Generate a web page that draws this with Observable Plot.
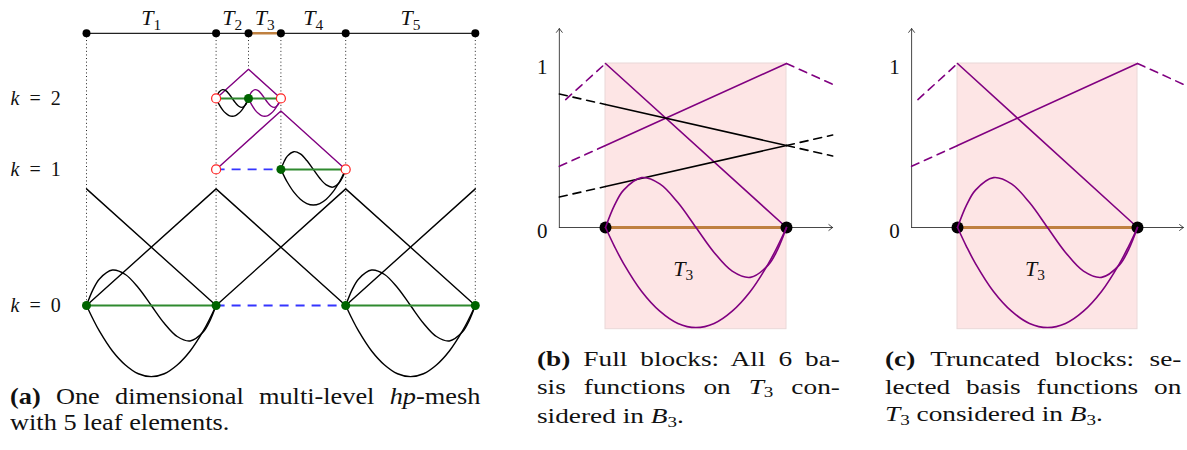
<!DOCTYPE html>
<html><head><meta charset="utf-8">
<script src="https://cdn.jsdelivr.net/npm/d3@7"></script>
<script src="https://cdn.jsdelivr.net/npm/@observablehq/plot@0.6"></script>
<style>
html,body{margin:0;padding:0;background:#fff;}
body{width:1187px;height:450px;position:relative;overflow:hidden;color:#111;font-family:'Liberation Serif',serif;}
.panel{position:absolute;top:0;}
.cap{position:absolute;font-family:'Liberation Serif',serif;color:#111;}
.cap .ln{transform-origin:0 0;white-space:normal;}
.cap .j{text-align:justify;text-align-last:justify;}
.sub{font-size:0.7em;position:relative;top:0.25em;}
</style></head>
<body>
<div id="pa" class="panel" style="left:0px"></div>
<div id="pb" class="panel" style="left:520px"></div>
<div id="pc" class="panel" style="left:860px"></div>
<div class="cap" style="left:10px;top:384px;font-size:22.5px;line-height:26px">
  <div class="ln j" style="width:402px;transform:scaleX(1.17)"><b>(a)</b> One dimensional multi-level <i>hp</i>-mesh</div>
  <div class="ln" style="width:402px;transform:scaleX(1.17)">with 5 leaf elements.</div>
</div>
<div class="cap" style="left:537px;top:346px;font-size:21px;line-height:27.5px">
  <div class="ln j" style="width:233px;transform:scaleX(1.3)"><b>(b)</b> Full blocks: All 6 ba-</div>
  <div class="ln j" style="width:233px;transform:scaleX(1.3)">sis functions on <i>T</i><span class="sub">3</span> con-</div>
  <div class="ln" style="width:233px;transform:scaleX(1.3)">sidered in <i>B</i><span class="sub">3</span>.</div>
</div>
<div class="cap" style="left:885px;top:346px;font-size:21px;line-height:27.5px">
  <div class="ln j" style="width:228px;transform:scaleX(1.3)"><b>(c)</b> Truncated blocks: se-</div>
  <div class="ln j" style="width:228px;transform:scaleX(1.3)">lected basis functions on</div>
  <div class="ln" style="width:228px;transform:scaleX(1.3)"><i>T</i><span class="sub">3</span> considered in <i>B</i><span class="sub">3</span>.</div>
</div>
<script>
// ---------------- data: panel (a) ----------------
const nodeX = [0, 4, 5, 6, 8, 12];
const leafLabels = ["T_1", "T_2", "T_3", "T_4", "T_5"];
const levelLabels = ["k = 0", "k = 1", "k = 2"];
const levelElements = [ // [level, x0, x1, active]
  [0, 0, 4, true], [0, 4, 8, false], [0, 8, 12, true],
  [1, 4, 6, false], [1, 6, 8, true],
  [2, 4, 5, true], [2, 5, 6, true]];
const levelNodes = [ // [level, x, hanging]
  [0, 0, false], [0, 4, false], [0, 8, false], [0, 12, false],
  [1, 4, true], [1, 6, false], [1, 8, true],
  [2, 4, true], [2, 5, false], [2, 6, true]];
const hatFunctions = [ // [level, left, peak, right, colour]
  [0, null, 0, 4, "black"], [0, 0, 4, 8, "black"], [0, 4, 8, 12, "black"], [0, 8, 12, null, "black"],
  [1, 4, 6, 8, "purple"], [2, 4, 5, 6, "purple"]];
const bubbleFunctions = [ // [level, x0, x1, colour]
  [0, 0, 4, "black"], [0, 8, 12, "black"], [1, 6, 8, "black"], [2, 4, 5, "black"], [2, 5, 6, "purple"]];
const guideLines = [ // [x, level where the dotted guide stops, stops at hat peak]
  [0, 0, false], [4, 0, false], [5, 2, true], [6, 1, false], [8, 0, false], [12, 0, false]];
// reference shapes on a unit element (hat peak = 1)
const bubbleT = [0, 0.05, 0.1, 0.2, 0.3, 0.4, 0.5, 0.6, 0.7, 0.8, 0.9, 0.95, 1];
const quadBubble = [0, -0.116, -0.22, -0.39, -0.51, -0.585, -0.61, -0.585, -0.51, -0.39, -0.22, -0.116, 0];
const cubicBubble = [0, 0.136, 0.228, 0.304, 0.266, 0.152, 0, -0.152, -0.266, -0.304, -0.228, -0.136, 0];

// ---------------- data: panels (b), (c) on T3 ----------------
const t3Colour = ["purple", "purple", "black", "black"];
const t3InTruncated = [true, true, false, false];
const t3Solid = [[[0, 1], [1, 0]], [[0, 0.5], [1, 1]], [[0, 0.75], [1, 0.5]], [[0, 0.25], [1, 0.5]]];
const t3Dashed = [
  [[[-0.22, 0.78], [0, 1]]],
  [[[-0.255, 0.373], [0, 0.5]], [[1, 1], [1.255, 0.873]]],
  [[[-0.255, 0.814], [0, 0.75]], [[1, 0.5], [1.255, 0.436]]],
  [[[-0.255, 0.186], [0, 0.25]], [[1, 0.5], [1.255, 0.564]]]];
const t3Element = [0, 1];
const tickValues = [0, 1];

// ---------------- layout ----------------
const FONT = "'Liberation Serif', serif";
const HAT = 0.9;               // drawn hat height per unit element width
const levelBase = [0, 4.2, 6.39];
const topLine = 8.4;
const PXA = 32.4;
const GREEN_LINE = "#2f8a2f", GREEN_DOT = "#006400", BLUE = "#3535ff", RED = "#ff2020", BROWN = "#bf8040";

function mathify(svg) {
  svg.querySelectorAll("text").forEach(el => {
    el.setAttribute("font-family", "Liberation Serif");
    const s = el.textContent;
    const m = s.match(/^([A-Za-z])(?:_(\w))?(.*)$/);
    if (!m) return;
    el.textContent = "";
    const ns = "http://www.w3.org/2000/svg";
    const a = document.createElementNS(ns, "tspan");
    a.setAttribute("font-style", "italic"); a.textContent = m[1]; el.appendChild(a);
    if (m[2]) {
      const b = document.createElementNS(ns, "tspan");
      b.setAttribute("font-size", "0.7em"); b.setAttribute("dy", "0.3em"); b.textContent = m[2]; el.appendChild(b);
    }
    if (m[3]) {
      const c = document.createElementNS(ns, "tspan");
      c.textContent = m[3].replace(/ /g, "\u2002"); el.appendChild(c);
    }
  });
}

// ---- panel (a) rows ----
const hatRows = [];
hatFunctions.forEach(([k, l, p, r, c], i) => {
  const b = levelBase[k];
  const h = l !== null ? p - l : r - p;
  if (l !== null) hatRows.push({id: i, x: l, y: b, c});
  hatRows.push({id: i, x: p, y: b + HAT * h, c});
  if (r !== null) hatRows.push({id: i, x: r, y: b, c});
});
const bubbleRows = [];
bubbleFunctions.forEach(([k, x0, x1, c], i) => {
  const h = x1 - x0, b = levelBase[k];
  [quadBubble, cubicBubble].forEach((shape, j) => {
    bubbleT.forEach((t, n) => bubbleRows.push({id: i * 2 + j, x: x0 + t * h, y: b + HAT * h * shape[n], c}));
  });
});
const elemRows = levelElements.map(([k, x1, x2, act]) => ({x1, x2, y: levelBase[k], act}));
const nodeRows = levelNodes.map(([k, x, hang]) => ({x, y: levelBase[k], hang}));
const guideRows = guideLines.map(([x, k, peak]) => ({x, y1: topLine, y2: levelBase[k] + (peak ? HAT * 1 : 0)}));
const leafRows = leafLabels.map((t, i) => ({x: (nodeX[i] + nodeX[i + 1]) / 2, y: topLine, t}));
const levelRows = levelLabels.map((t, k) => ({y: levelBase[k], t}));

const plotA = Plot.plot({
  width: 500, height: 385, margin: 0,
  style: {fontFamily: FONT, background: "transparent"},
  x: {domain: [-86 / PXA, (500 - 86) / PXA], axis: null},
  y: {domain: [-80 / PXA, 305 / PXA], axis: null},
  marks: [
    Plot.ruleX(guideRows, {x: "x", y1: "y1", y2: "y2", stroke: "#222", strokeWidth: 1, strokeDasharray: "1,2.6"}),
    Plot.ruleY([topLine], {x1: nodeX[0], x2: nodeX[nodeX.length - 1], stroke: "#222", strokeWidth: 1.2}),
    Plot.ruleY([topLine], {x1: nodeX[2], x2: nodeX[3], stroke: BROWN, strokeWidth: 2.5}),
    Plot.line(hatRows, {x: "x", y: "y", z: "id", stroke: "c", strokeWidth: 1.4}),
    Plot.line(bubbleRows, {x: "x", y: "y", z: "id", stroke: "c", strokeWidth: 1.4, curve: "catmull-rom"}),
    Plot.ruleY(elemRows.filter(d => d.act), {x1: "x1", x2: "x2", y: "y", stroke: GREEN_LINE, strokeWidth: 2}),
    Plot.ruleY(elemRows.filter(d => !d.act), {x1: "x1", x2: "x2", y: "y", stroke: BLUE, strokeWidth: 1.8, strokeDasharray: "9,7"}),
    Plot.dot(nodeX, {x: d => d, y: () => topLine, r: 4, fill: "black"}),
    Plot.dot(nodeRows.filter(d => !d.hang), {x: "x", y: "y", r: 4.5, fill: GREEN_DOT}),
    Plot.dot(nodeRows.filter(d => d.hang), {x: "x", y: "y", r: 4.5, fill: "white", stroke: RED, strokeWidth: 1.2}),
    Plot.text(leafRows, {x: "x", y: "y", text: "t", dy: -15, fontSize: 22, fontFamily: FONT, fill: "#111"}),
    Plot.text(levelRows, {y: "y", frameAnchor: "left", dx: 10, text: "t", textAnchor: "start", fontSize: 20, fontFamily: FONT, fill: "#111"})
  ]
});
mathify(plotA);
document.getElementById("pa").appendChild(plotA);

// ---- panels (b), (c) ----
function panelT3(truncated, widthPx, leftT, pxPerT) {
  const sel = (i) => !truncated || t3InTruncated[i];
  const solidRows = [], dashRows = [];
  t3Solid.forEach((pts, i) => { if (sel(i)) pts.forEach(([x, y]) => solidRows.push({id: i, x, y, c: t3Colour[i]})); });
  t3Dashed.forEach((segs, i) => { if (sel(i)) segs.forEach((pts, j) => pts.forEach(([x, y]) => dashRows.push({id: i * 10 + j, x, y, c: t3Colour[i]}))); });
  const bub = [];
  [quadBubble, cubicBubble].forEach((shape, j) => bubbleT.forEach((t, n) => bub.push({id: j, x: t, y: shape[n]})));
  const ax0 = -0.255, ax1 = 1.255, ayTop = 1.213;
  const PXV = 164;
  const svg = Plot.plot({
    width: widthPx, height: 335, margin: 0,
    style: {fontFamily: FONT, background: "transparent"},
    x: {domain: [leftT, leftT + widthPx / pxPerT], axis: null},
    y: {domain: [-(335 - 227) / PXV, 227 / PXV], axis: null},
    marks: [
      Plot.rect([t3Element], {x1: d => d[0], x2: d => d[1], y1: -0.62, y2: 1, fill: "#fde5e5", stroke: "#ead8d8", strokeWidth: 1}),
      Plot.arrow([{x1: ax0, y1: 0, x2: ax1, y2: 0}, {x1: ax0, y1: 0, x2: ax0, y2: ayTop}],
        {x1: "x1", y1: "y1", x2: "x2", y2: "y2", bend: 0, headLength: 8, headAngle: 75, stroke: "#333", strokeWidth: 0.9}),
      Plot.line(dashRows, {x: "x", y: "y", z: "id", stroke: "c", strokeWidth: 1.6, strokeDasharray: "8,6"}),
      Plot.line(solidRows, {x: "x", y: "y", z: "id", stroke: "c", strokeWidth: 1.6}),
      Plot.ruleY([0], {x1: t3Element[0], x2: t3Element[1], stroke: BROWN, strokeWidth: 3}),
      Plot.dot(t3Element, {x: d => d, y: () => 0, r: 6, fill: "black"}),
      Plot.line(bub, {x: "x", y: "y", z: "id", stroke: "purple", strokeWidth: 1.6, curve: "catmull-rom"}),
      Plot.text(["T_3"], {x: 0.43, y: -0.25, text: d => d, fontSize: 22, fontFamily: FONT, fill: "#111"}),
      Plot.text(tickValues, {x: () => ax0, y: d => d, text: d => String(d), dx: -17, dy: 4, fontSize: 21, fontFamily: FONT, fill: "#111"})
    ]
  });
  mathify(svg);
  return svg;
}
document.getElementById("pb").appendChild(panelT3(false, 330, (520 - 605) / 181, 181));
document.getElementById("pc").appendChild(panelT3(true, 327, (860 - 957) / 180, 180));
</script>
</body></html>
